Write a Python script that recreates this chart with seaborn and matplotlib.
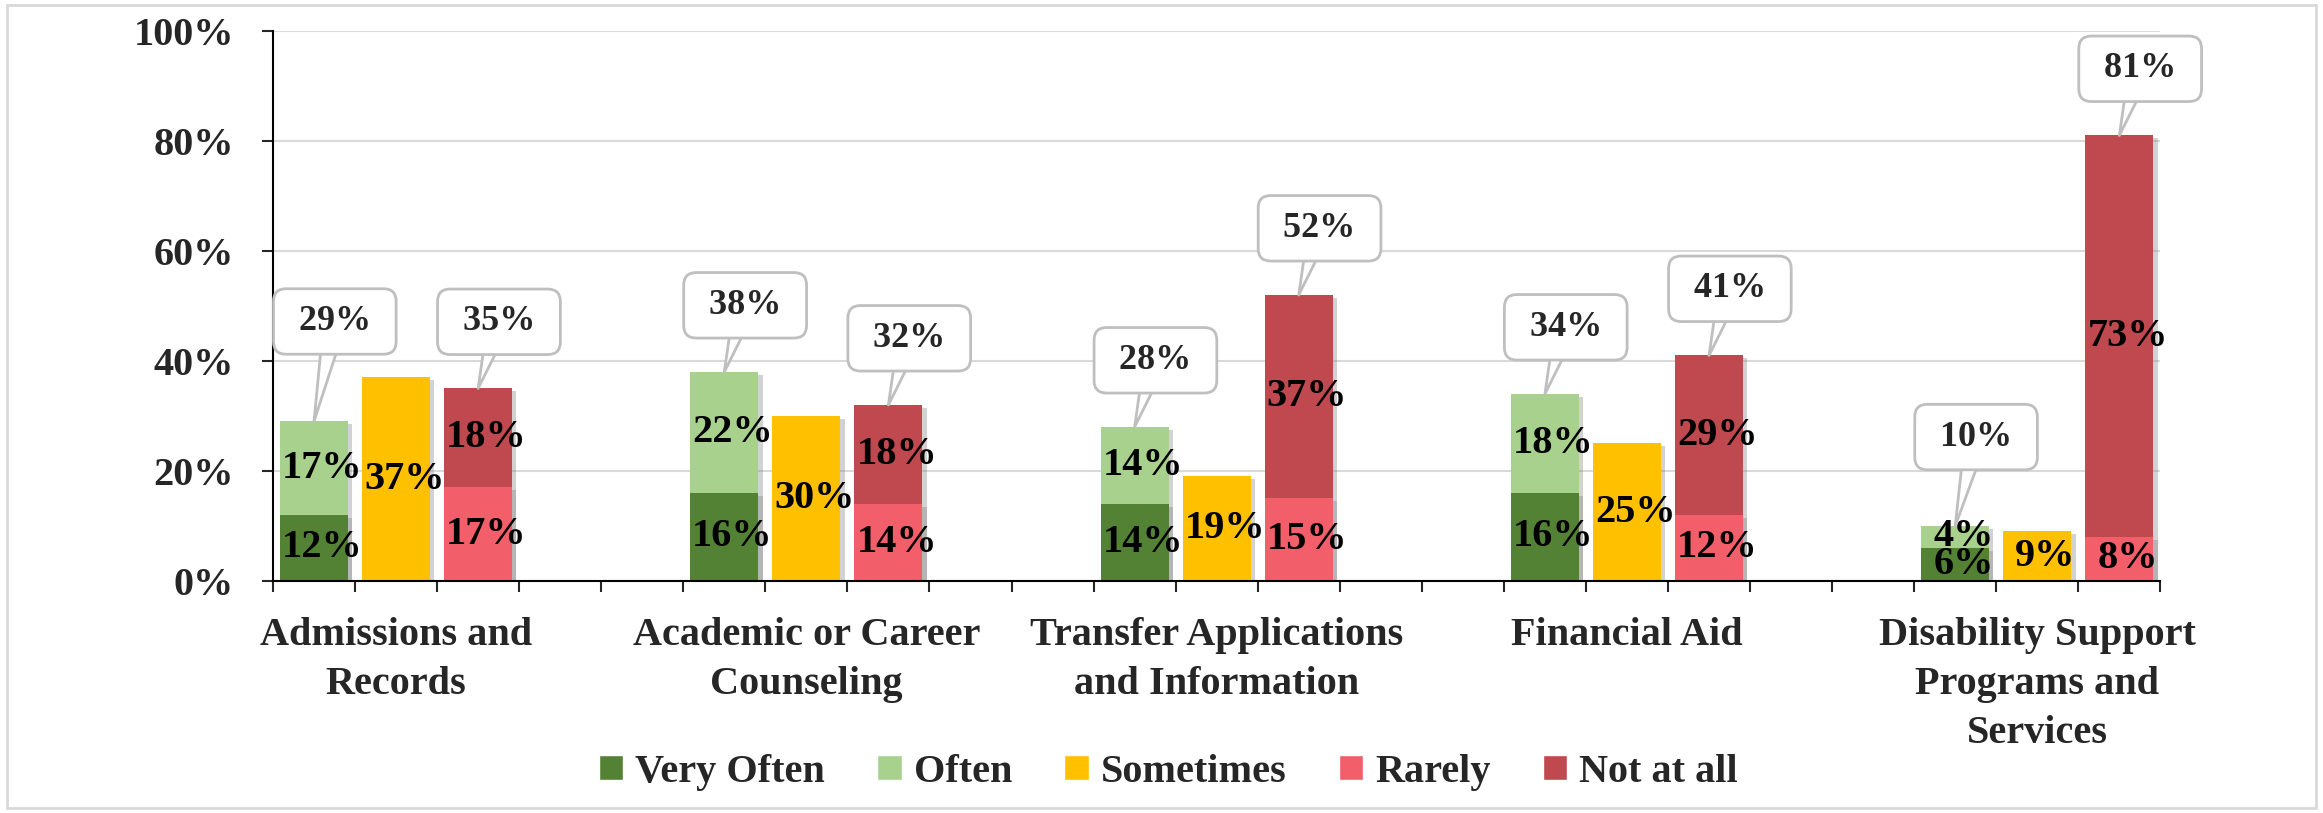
import pandas as pd
import matplotlib.pyplot as plt
import matplotlib.patheffects as pe
from matplotlib.patches import Patch, Rectangle
from matplotlib.ticker import FixedLocator
import seaborn as sns

# Chart data (percent of respondents)
categories = ["Admissions and\nRecords", "Academic or Career\nCounseling",
              "Transfer Applications\nand Information", "Financial Aid",
              "Disability Support\nPrograms and\nServices"]
very_often = [12, 16, 14, 16, 6]
often = [17, 22, 14, 18, 4]
sometimes = [37, 30, 19, 25, 9]
rarely = [17, 14, 15, 12, 8]
not_at_all = [18, 18, 37, 29, 73]

series_names = ["Very Often", "Often", "Sometimes", "Rarely", "Not at all"]
colors = {"Very Often": "#548235", "Often": "#A9D18E", "Sometimes": "#FFC000",
          "Rarely": "#F25F6B", "Not at all": "#C0494F"}

sns.set_style("white")
plt.rcParams["font.family"] = ["Liberation Serif", "DejaVu Serif"]
plt.rcParams["font.weight"] = "bold"

# each category gets three slots (positive / sometimes / negative), then two empty slots
n_slots = 5 * len(categories) - 2
slots = [str(i) for i in range(n_slots)]
pos_slot = [5 * i for i in range(len(categories))]
mid_slot = [5 * i + 1 for i in range(len(categories))]
neg_slot = [5 * i + 2 for i in range(len(categories))]

pos_total = [a + b for a, b in zip(very_often, often)]
neg_total = [a + b for a, b in zip(rarely, not_at_all)]

layers = [
    ("Often", pos_slot, pos_total),
    ("Very Often", pos_slot, very_often),
    ("Sometimes", mid_slot, sometimes),
    ("Not at all", neg_slot, neg_total),
    ("Rarely", neg_slot, rarely),
]

fig, ax = plt.subplots(figsize=(23.23, 8.13), dpi=100)
fig.subplots_adjust(left=0.1175, right=0.930, bottom=0.2854, top=0.9619)

for name, slot_list, vals in layers:
    df = pd.DataFrame({"slot": [str(s) for s in slot_list], "value": vals})
    sns.barplot(data=df, x="slot", y="value", order=slots, color=colors[name],
                saturation=1, width=0.83, errorbar=None, linewidth=0, ax=ax)

for p in ax.patches:
    p.set_path_effects([pe.SimplePatchShadow(offset=(3, -2), shadow_rgbFace="#7f7f7f", alpha=0.35),
                        pe.Normal()])

# segment labels
lab_kw = dict(ha="center", va="center", fontsize=29, fontweight="bold", color="black", zorder=5)
for i in range(len(categories)):
    ax.text(pos_slot[i] + 0.1, very_often[i] / 2, f"{very_often[i]}%", **lab_kw)
    ax.text(pos_slot[i] + 0.1, very_often[i] + often[i] / 2, f"{often[i]}%", **lab_kw)
    ax.text(mid_slot[i] + 0.1, sometimes[i] / 2, f"{sometimes[i]}%", **lab_kw)
    ax.text(neg_slot[i] + 0.1, rarely[i] / 2, f"{rarely[i]}%", **lab_kw)
    ax.text(neg_slot[i] + 0.1, rarely[i] + not_at_all[i] / 2, f"{not_at_all[i]}%", **lab_kw)

# callouts with totals (a couple of boxes sit higher, as in the original)
lift = {(0, "pos"): 72, (4, "pos"): 64}
for i in range(len(categories)):
    for side, s, tot in [("pos", pos_slot[i], pos_total[i]), ("neg", neg_slot[i], neg_total[i])]:
        dy = lift.get((i, side), 48)
        ax.annotate(f" {tot}% ", xy=(s, tot), xytext=(15, dy), textcoords="offset points",
                    ha="center", va="center", fontsize=26, fontweight="bold", color="#262626",
                    bbox=dict(boxstyle="round,pad=0.45,rounding_size=0.35", fc="white",
                              ec="#BFBFBF", lw=2),
                    arrowprops=dict(arrowstyle="wedge,tail_width=0.6,shrink_factor=0.5",
                                    fc="white", ec="#BFBFBF", lw=2, patchA=None, shrinkB=0),
                    zorder=6)

ax.set_ylim(0, 100)
ax.set_xlim(-0.5, n_slots - 0.5)
ax.set_yticks(range(0, 101, 20))
ax.set_yticklabels([f"{v}%" for v in range(0, 101, 20)])
ax.set_xticks(mid_slot)
ax.set_xticklabels(categories)
ax.xaxis.set_minor_locator(FixedLocator([k - 0.5 for k in range(n_slots + 1)]))
ax.tick_params(axis="x", which="major", length=0, pad=26, labelsize=29)
ax.tick_params(axis="x", which="minor", length=8, width=1.5, direction="out", bottom=True)
ax.tick_params(axis="y", length=8, width=1.5, direction="out", left=True, pad=20, labelsize=29)
for t in ax.get_xticklabels():
    t.set_linespacing(1.42)
    t.set_fontweight("bold")
for t in ax.get_yticklabels():
    t.set_fontweight("bold")

ax.set_xlabel("")
ax.set_ylabel("")
ax.yaxis.grid(True, color="#D9D9D9", lw=1.5)
ax.set_axisbelow(True)
sns.despine(ax=ax, top=True, right=True)
ax.spines["left"].set_linewidth(1.5)
ax.spines["bottom"].set_linewidth(1.5)
ax.spines["left"].set_color("black")
ax.spines["bottom"].set_color("black")

handles = [Patch(facecolor=colors[n], label=n) for n in series_names]
fig.legend(handles=handles, loc="center", bbox_to_anchor=(0.503, 0.05), ncol=5,
           frameon=False, prop={"size": 29, "weight": "bold"}, handlelength=0.6,
           handleheight=0.6, handletextpad=0.3, columnspacing=1.3)

fig.patches.append(Rectangle((0.003, 0.006), 0.994, 0.988, transform=fig.transFigure,
                             fill=False, ec="#D9D9D9", lw=2))

fig.savefig("out.png", dpi=100)
